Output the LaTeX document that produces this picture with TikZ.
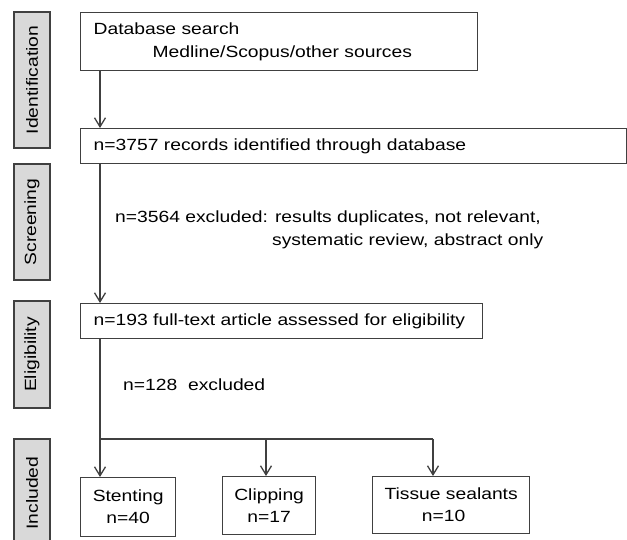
\documentclass[tikz,border=0pt]{standalone}
\usepackage{fontspec}
\setmainfont{Liberation Sans}[FakeStretch=1.19]
\usetikzlibrary{arrows.meta}
\definecolor{linegray}{HTML}{404040}
\definecolor{phasegray}{HTML}{D9D9D9}
\tikzset{
  every node/.style={font=\fontsize{16.2}{23}\selectfont, text=black},
  phase/.style={draw=linegray, line width=1.3pt, fill=phasegray, rotate=90,
    inner sep=0pt, minimum height=36pt},
  leftbox/.style={draw=linegray, line width=1.3pt, fill=white, anchor=north west,
    inner xsep=13pt, inner ysep=0pt, align=left},
  resbox/.style={draw=linegray, line width=1.3pt, fill=white, anchor=north west,
    inner sep=0pt, align=center, font=\fontsize{16.2}{22}\selectfont},
  conn/.style={draw=linegray, line width=1.3pt},
  arr/.style={conn, -{Straight Barb[length=9pt,width=11pt]}},
  note/.style={anchor=west, inner sep=0pt, align=left}
}
\begin{document}
\begin{tikzpicture}[x=1pt,y=-1pt]
\useasboundingbox (0,0) rectangle (627,540);
% phase labels
\node[phase, minimum width=136pt] (pid) at (32,80) {Identification};
\node[phase, minimum width=116pt] (pscr) at (32,222) {Screening};
\node[phase, minimum width=107pt] (pel) at (32,354.5) {Eligibility};
\node[phase, minimum width=108pt] (pinc) at (32,493) {Included};
% main boxes
\node[leftbox, text width=371pt, minimum height=58pt] (db) at (80,12)
  {Database search\\\hspace*{59pt}Medline/Scopus/other sources};
\node[leftbox, text width=520pt, minimum height=35pt] (rec) at (80,128)
  {n=3757 records identified through database};
\node[leftbox, text width=376pt, minimum height=35pt] (ft) at (80,303)
  {n=193 full-text article assessed for eligibility};
% result boxes
\node[resbox, minimum width=95pt, minimum height=59pt] (st) at (80,477) {Stenting\\n=40};
\node[resbox, minimum width=93pt, minimum height=58pt] (cl) at (222,476) {Clipping\\n=17};
\node[resbox, minimum width=157pt, minimum height=57pt] (ts) at (372,476) {Tissue sealants\\n=10\hspace*{15pt}};
% exclusion notes
\node[note] (ex1) at (115,229.5)
  {n=3564 excluded: results duplicates, not relevant,\\\hspace*{157pt}systematic review, abstract only};
\node[note] (ex2) at (123,385) {n=128\ \ excluded};
% connectors
\coordinate (xl) at (100,0);
\coordinate (split) at (100,439);
\coordinate (xc) at (266,0);
\coordinate (xt) at (433,0);
\draw[arr] (db.south -| xl) -- (rec.north -| xl);
\draw[arr] (rec.south -| xl) -- (ft.north -| xl);
\draw[arr] (ft.south -| xl) -- (st.north -| xl);
\draw[conn] (split) -- (split -| xt);
\draw[arr] (split -| xc) -- (cl.north -| xc);
\draw[arr] (split -| xt) -- (ts.north -| xt);
\end{tikzpicture}
\end{document}
